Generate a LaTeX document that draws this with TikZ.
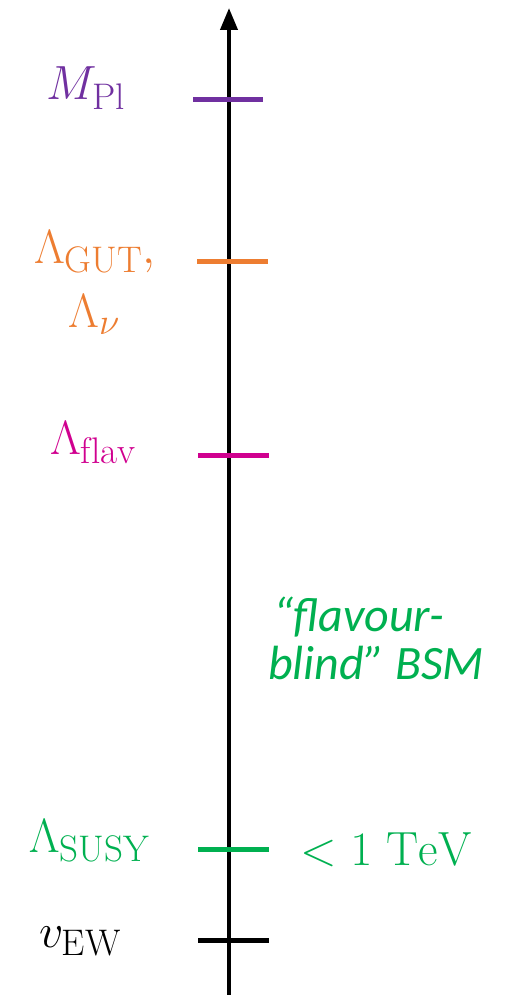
\RequirePackage{fix-cm}
\documentclass[tikz,border=0pt]{standalone}
\usepackage{fontspec}
\newfontfamily\calib{Carlito}
\DeclareMathSizes{48}{48}{37}{28}
\usetikzlibrary{arrows.meta}
\definecolor{cPl}{HTML}{7030A0}
\definecolor{cGUT}{HTML}{ED7D31}
\definecolor{cFlav}{HTML}{D0008F}
\definecolor{cGreen}{HTML}{00B050}
\begin{document}
\begin{tikzpicture}[x=1pt,y=-1pt,
  tickline/.style={line width=5pt},
  lbl/.style={inner sep=0pt,anchor=base,font=\fontsize{48}{56}\selectfont},
  bsmtext/.style={inner sep=0pt,anchor=base west,text=cGreen,font=\calib\itshape\fontsize{48}{56}\selectfont}]
\useasboundingbox (0,0) rectangle (508,995);
% axis
\coordinate (axb) at (229,995);
\coordinate (axt) at (229,8);
\draw[line width=4pt,-{Triangle[width=17pt,length=22pt]}] (axb) -- (axt);
% ticks
\coordinate (p1) at (193,100); \coordinate (p2) at (263,100);
\coordinate (g1) at (197,261); \coordinate (g2) at (268,261);
\coordinate (f1) at (198,455); \coordinate (f2) at (269,455);
\coordinate (s1) at (198,849); \coordinate (s2) at (269,849);
\coordinate (e1) at (198,940); \coordinate (e2) at (269,940);
\draw[tickline,cPl] (p1) -- (p2);
\draw[tickline,cGUT] (g1) -- (g2);
\draw[tickline,cFlav] (f1) -- (f2);
\draw[tickline,cGreen] (s1) -- (s2);
\draw[tickline,black] (e1) -- (e2);
% labels
\node[lbl,text=cPl] (mpl) at (86,100) {$M_{\mathrm{Pl}}$};
\node[lbl,text=cGUT] (lgut) at (95,263) {$\Lambda_{\mathrm{GUT}},$};
\node[lbl,text=cGUT] (lnu) at (94,327) {$\Lambda_{\nu}$};
\node[lbl,text=cFlav] (lflav) at (93,454) {$\Lambda_{\mathrm{flav}}$};
\node[lbl,text=cGreen] (lsusy) at (89,852) {$\Lambda_{\mathrm{SUSY}}$};
\node[lbl,text=cGreen] (tev) at (386,865) {$<1\ \mathrm{TeV}$};
\node[lbl,text=black] (vew) at (80,947) {$v_{\mathrm{EW}}$};
\node[bsmtext] (bsm1) at (273,631) {“flavour-};
\node[bsmtext] (bsm2) at (268,679) {blind” BSM};
\end{tikzpicture}
\end{document}
